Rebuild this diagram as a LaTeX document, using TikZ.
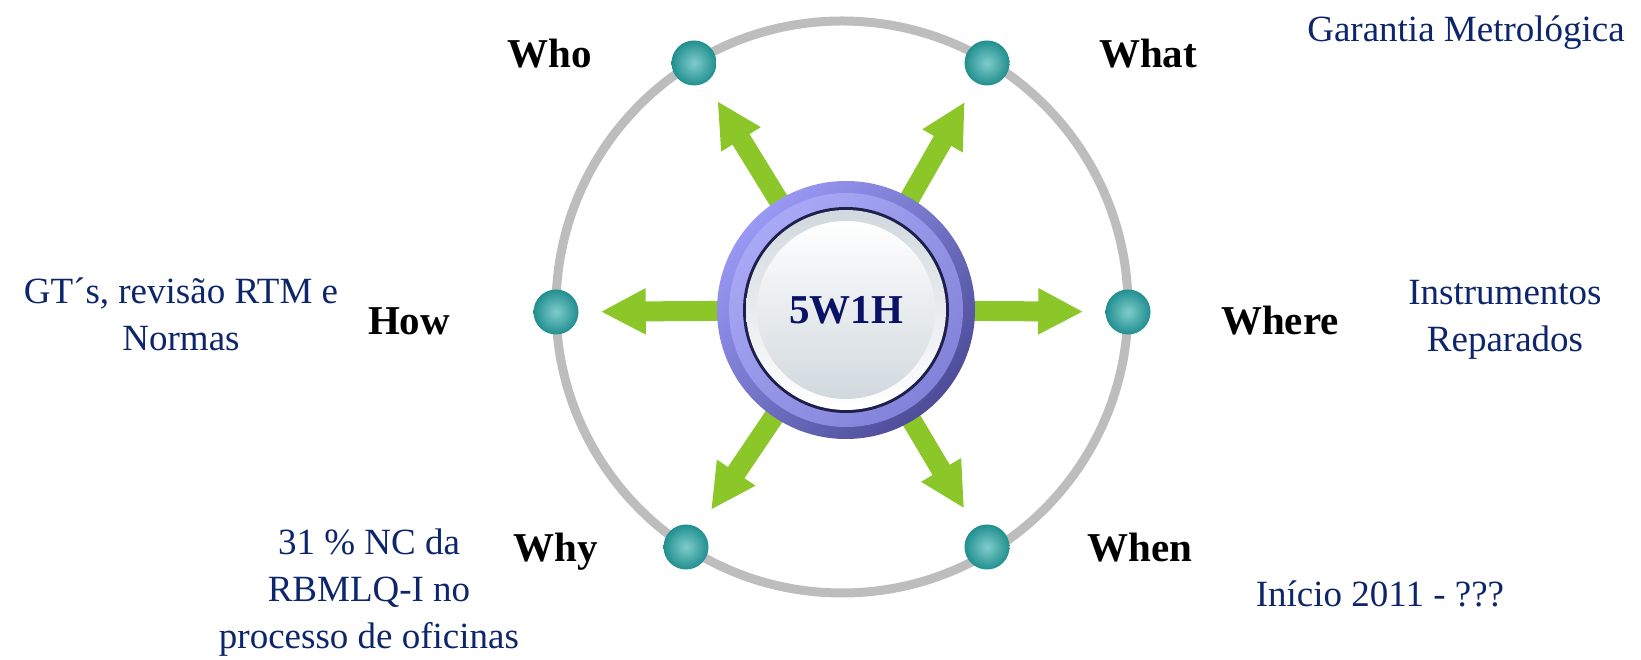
\documentclass[tikz,border=0pt]{standalone}
\usepackage{fontspec}
\setmainfont{Liberation Serif}
\usetikzlibrary{arrows.meta,shapes}
\definecolor{griscercle}{rgb}{0.74,0.74,0.74}
\definecolor{vertfleche}{rgb}{0.55,0.78,0.16}
\definecolor{sarcelleclair}{rgb}{0.50,0.80,0.80}
\definecolor{sarcelle}{rgb}{0.13,0.56,0.56}
\definecolor{bleutexte}{rgb}{0.05,0.15,0.42}
\definecolor{bleucentre}{rgb}{0.04,0.07,0.40}
\definecolor{mauveclair}{rgb}{0.60,0.60,0.96}
\definecolor{mauvefonce}{rgb}{0.30,0.30,0.60}
\definecolor{bordcentre}{rgb}{0.12,0.12,0.30}
\definecolor{grispale}{rgb}{0.82,0.85,0.87}

\begin{document}
\begin{tikzpicture}[x=1pt, y=1pt]
		% STYLES
		\tikzstyle{cercle} = [line width=9pt, draw=griscercle]
		\tikzstyle{bille} = [circle, inner sep=0pt, minimum size=45pt, shade, inner color=sarcelleclair, outer color=sarcelle]
		\tikzstyle{moyeu} = [circle, inner sep=0pt, minimum size=230pt]
		\tikzstyle{fleche} = [line width=20pt, draw=vertfleche, -{Triangle[width=43pt, length=45pt]}, shorten >=22pt]
		\tikzstyle{question} = [font=\fontsize{41}{47}\selectfont\bfseries, inner sep=0pt, anchor=base]
		\tikzstyle{reponse} = [font=\fontsize{37}{47}\selectfont, text=bleutexte, align=center, inner sep=0pt, anchor=base]

		% CADRE
		\useasboundingbox (0, 0) rectangle (1641, 660);

		% GRAND CERCLE
		\draw[cercle] (842, 353) circle (286pt);

		% BILLES
		\foreach \nom/\x/\y in {who/694/597, what/987/597, how/556/348, where/1128/348, why/686/113, when/987/113}
			\node[bille] (\nom) at (\x, \y) {};

		% FLECHES
		\node[moyeu] (centre) at (846, 350) {};
		\foreach \nom in {who, what, how, where, why, when}
			\draw[fleche] (centre) -- (\nom);

		% BOUTON CENTRAL
		\shade[top color=mauveclair, bottom color=mauvefonce, shading angle=45]
			(centre.center) circle (129pt);
		\shade[top color=mauveclair!85!white, bottom color=mauveclair!70!mauvefonce, shading angle=45]
			(centre.center) circle (117pt);
		\fill[bordcentre] (centre.center) circle (103pt);
		\shade[top color=grispale, bottom color=white] (centre.center) circle (100pt);
		\shade[top color=white, bottom color=grispale] (centre.center) circle (89pt);
		\node[font=\fontsize{41}{47}\selectfont\bfseries, text=bleucentre] (titre) at (centre) {5W1H};

		% QUESTIONS
		\node[question] (lblwho) at (550, 592) {Who};
		\node[question] (lblwhat) at (1148, 592) {What};
		\node[question] (lblhow) at (409, 325) {How};
		\node[question] (lblwhere) at (1280, 325) {Where};
		\node[question] (lblwhy) at (556, 98) {Why};
		\node[question] (lblwhen) at (1140, 98) {When};

		% REPONSES (base = derniere ligne)
		\node[reponse] (notewhat) at (1466, 618) {Garantia Metrológica};
		\node[reponse] (notewhere) at (1505, 308) {Instrumentos\\Reparados};
		\node[reponse] (notehow) at (181, 309) {GT´s, revisão RTM e\\Normas};
		\node[reponse] (notewhy) at (369, 11) {31 \% NC da\\RBMLQ-I no\\processo de oficinas};
		\node[reponse] (notewhen) at (1380, 53) {Início 2011 - ???};

	\end{tikzpicture}
\end{document}
